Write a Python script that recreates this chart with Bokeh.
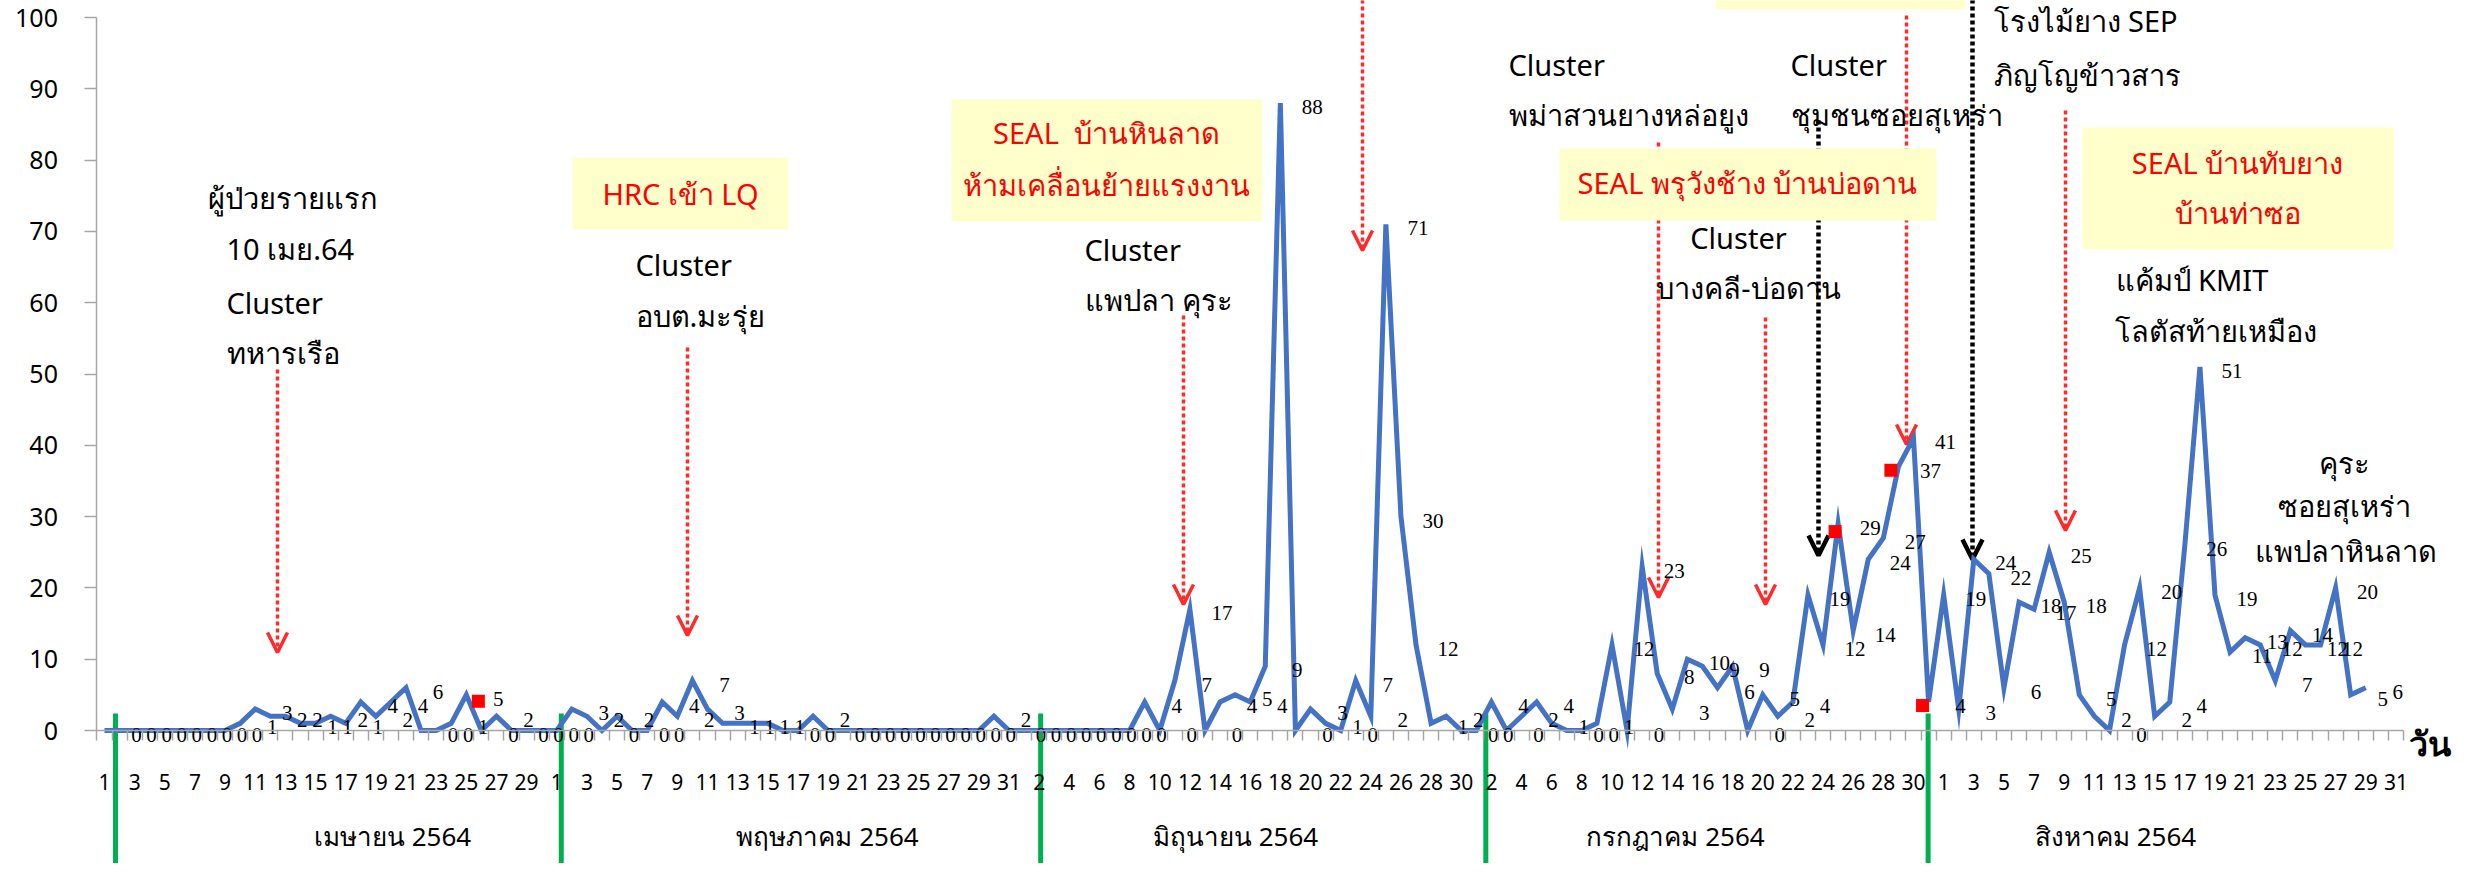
from bokeh.plotting import figure
from bokeh.models import Range1d, FixedTicker, Arrow, OpenHead
from bokeh.core.properties import value
from bokeh.embed import file_html
from bokeh.resources import INLINE

# ---------------- data (daily new cases, 1 Apr - 31 Aug 2564) ----------------
month_names = ["เมษายน 2564", "พฤษภาคม 2564", "มิถุนายน 2564", "กรกฎาคม 2564", "สิงหาคม 2564"]
month_days = [30, 31, 30, 31, 31]
cases_apr = [0, 0, 0, 0, 0, 0, 0, 0, 0, 1, 3, 2, 2, 1, 1, 2, 1, 4, 2, 4, 6, 0, 0, 1, 5, 0, 2, 0, 0, 0]
cases_may = [0, 3, 2, 0, 2, 0, 0, 4, 2, 7, 3, 1, 1, 1, 1, 0, 0, 2, 0, 0, 0, 0, 0, 0, 0, 0, 0, 0, 0, 2, 0]
cases_jun = [0, 0, 0, 0, 0, 0, 0, 0, 4, 0, 7, 17, 0, 4, 5, 4, 9, 88, 0, 3, 1, 0, 7, 2, 71, 30, 12, 1, 2, 0]
cases_jul = [0, 4, 0, 2, 4, 1, 0, 0, 1, 12, 0, 23, 8, 3, 10, 9, 6, 9, 0, 5, 2, 4, 19, 12, 29, 14, 24, 27, 37, 41, 4]
cases_aug = [19, 3, 24, 22, 6, 18, 17, 25, 18, 5, 2, 0, 12, 20, 2, 4, 26, 51, 19, 11, 13, 12, 7, 14, 12, 12, 20, 5, 6, None, None]
y_ticks = [0, 10, 20, 30, 40, 50, 60, 70, 80, 90, 100]
# red square event markers (day index, value)
event_marker_idx = [24.8, 114.8, 118.5, 120.6]
event_marker_val = [4.1, 27.9, 36.5, 3.5]
# green month separators (day index)
separator_idx = [0.73, 30.3, 62.1, 91.63, 120.97]

# ---------------- derived ----------------
cases = cases_apr + cases_may + cases_jun + cases_jul + cases_aug
day_no = []
for n in month_days:
    day_no += list(range(1, n + 1))
idx = list(range(len(cases)))
line_y = [float("nan") if v is None else v for v in cases]
lab_x = [i for i, v in zip(idx, cases) if v is not None]
lab_y = [v for v in cases if v is not None]
lab_t = [str(v) for v in cases if v is not None]

# ---------------- layout helpers (reference pixel -> data) ----------------
W, H = 2455, 863
X0, DX = 112.0, 15.075
Y0, DY = 738.0, 7.13
def ix(px):
    return (px - X0) / DX
def iy(py):
    return (Y0 - py) / DY

SANS = "Noto Sans"
SERIF = "Liberation Serif"
NB = "\u00a0"

p = figure(width=W, height=H, output_backend="svg", toolbar_location=None,
           x_range=Range1d(ix(8), ix(8 + W)), y_range=Range1d(iy(8 + H), iy(8)),
           min_border=0, min_border_left=0, min_border_right=0, min_border_top=0, min_border_bottom=0)
p.outline_line_color = None
p.xgrid.visible = False
p.ygrid.visible = False
p.background_fill_color = "white"
p.border_fill_color = "white"

AX = "#A6A6A6"
xa = p.xaxis[0]
xa.fixed_location = 0
xa.bounds = (-0.5, len(cases) - 0.5)
xa.ticker = FixedTicker(ticks=[i for i in idx if i % 2 == 0],
                        minor_ticks=[i - 0.5 for i in range(len(cases) + 1)])
xa.major_label_overrides = {i: str(day_no[i]) for i in idx if i % 2 == 0}
xa.major_tick_in = 0
xa.major_tick_out = 0
xa.minor_tick_in = 0
xa.minor_tick_out = 10
xa.minor_tick_line_color = AX
xa.minor_tick_line_width = 1.5
xa.axis_line_color = AX
xa.axis_line_width = 1.5
xa.major_label_text_font = SANS
xa.major_label_text_font_size = "21px"
xa.major_label_text_color = "black"
xa.major_label_standoff = 33

ya = p.yaxis[0]
ya.fixed_location = -0.5
ya.bounds = (0, 100)
ya.ticker = FixedTicker(ticks=y_ticks)
ya.major_tick_in = 0
ya.major_tick_out = 12
ya.major_tick_line_color = AX
ya.major_tick_line_width = 1.5
ya.minor_tick_out = 0
ya.minor_tick_in = 0
ya.axis_line_color = AX
ya.axis_line_width = 1.5
ya.major_label_text_font = SANS
ya.major_label_text_font_size = "25px"
ya.major_label_text_color = "black"
ya.major_label_standoff = 27

# arrows (dotted with open V heads), behind boxes
RED = "#FF2A2A"
arrows = [(285, 377, 660, RED), (695, 355, 643, RED), (1191, 323, 612, RED), (1370, 0, 258, RED),
          (1666, 150, 605, RED), (1773, 325, 612, RED), (1826, 128, 563, "black"),
          (1914, 23, 452, RED), (1980, 0, 567, "black"), (2073, 118, 538, RED)]
for X, ys, ye, col in arrows:
    lw = 3.5 if col == RED else 4.5
    p.add_layout(Arrow(end=OpenHead(size=20, line_color=col, line_width=lw),
                       x_start=ix(X), y_start=iy(ys), x_end=ix(X), y_end=iy(ye),
                       line_color=col, line_width=lw, line_dash="4 3", level="underlay"))

# green separators
p.segment(x0=separator_idx, x1=separator_idx, y0=[iy(721)] * len(separator_idx),
          y1=[iy(900)] * len(separator_idx), line_color="#00B050", line_width=5)

# main line
p.line(idx, line_y, line_color="#4472C4", line_width=5, line_join="miter")

# data labels
p.text(x=lab_x, y=lab_y, text=lab_t, x_offset=32, y_offset=4, text_align="center",
       text_baseline="middle", text_font=value(SERIF), text_font_size="21px", text_color="black")

# event markers
p.scatter(event_marker_idx, event_marker_val, marker="square", size=13,
          fill_color="#FF0000", line_color=None)

# yellow boxes
boxes = [(580, 796, 165, 237), (959, 1270, 107, 229), (1723, 1973, -10, 17),
         (1567, 1944, 156, 228), (2090, 2401, 135, 257)]
p.quad(left=[ix(b[0]) for b in boxes], right=[ix(b[1]) for b in boxes],
       top=[iy(b[2]) for b in boxes], bottom=[iy(b[3]) for b in boxes],
       fill_color="#FFFFCC", line_color=None)

notes_red = [("HRC เข้า LQ", 688, 201), ("SEAL" + NB + " บ้านหินลาด", 1114, 140),
             ("ห้ามเคลื่อนย้ายแรงงาน", 1114, 192), ("SEAL พรุวังช้าง บ้านบ่อดาน", 1755, 190),
             ("SEAL บ้านทับยาง", 2245, 170), ("บ้านท่าซอ", 2245, 220)]
p.text(x=[ix(n[1]) for n in notes_red], y=[iy(n[2]) for n in notes_red], text=[n[0] for n in notes_red],
       text_align="center", text_baseline="middle", text_font=value(SANS), text_font_size="29px",
       text_color="#FF0000")

notes_left = [("ผู้ป่วยรายแรก", 215, 205), ("10 เมย.64", 234, 256), ("Cluster", 234, 310),
              ("ทหารเรือ", 234, 360), ("Cluster", 643, 272), ("อบต.มะรุ่ย", 643, 323),
              ("Cluster", 1092, 257), ("แพปลา คุระ", 1092, 307), ("Cluster", 1516, 72),
              ("พม่าสวนยางหล่อยูง", 1516, 122), ("Cluster", 1798, 72), ("ชุมชนซอยสุเหร่า", 1798, 122),
              ("โรงไม้ยาง SEP", 2001, 28), ("ภิญโญข้าวสาร", 2001, 82), ("แค้มป์ KMIT", 2123, 287),
              ("โลตัสท้ายเหมือง", 2122, 338)]
p.text(x=[ix(n[1]) for n in notes_left], y=[iy(n[2]) for n in notes_left], text=[n[0] for n in notes_left],
       text_align="left", text_baseline="middle", text_font=value(SANS), text_font_size="29px",
       text_color="black")

notes_center = [("Cluster", 1746, 245), ("บางคลี-บ่อดาน", 1756, 295), ("คุระ", 2352, 470),
                ("ซอยสุเหร่า", 2352, 513), ("แพปลาหินลาด", 2353, 558)]
p.text(x=[ix(n[1]) for n in notes_center], y=[iy(n[2]) for n in notes_center],
       text=[n[0] for n in notes_center], text_align="center", text_baseline="middle",
       text_font=value(SANS), text_font_size="29px", text_color="black")

# month labels
month_px = [400, 835, 1243, 1683, 2123]
p.text(x=[ix(m) for m in month_px], y=[iy(843)] * 5, text=month_names, text_align="center",
       text_baseline="middle", text_font=value(SANS), text_font_size="26px", text_color="black")

# axis unit
p.text(x=[ix(2458)], y=[iy(750)], text=["วัน"], text_align="right", text_baseline="middle",
       text_font=value(SANS), text_font_size="34px", text_font_style="bold", text_color="black")

open("out.html", "w").write(file_html(p, INLINE))
